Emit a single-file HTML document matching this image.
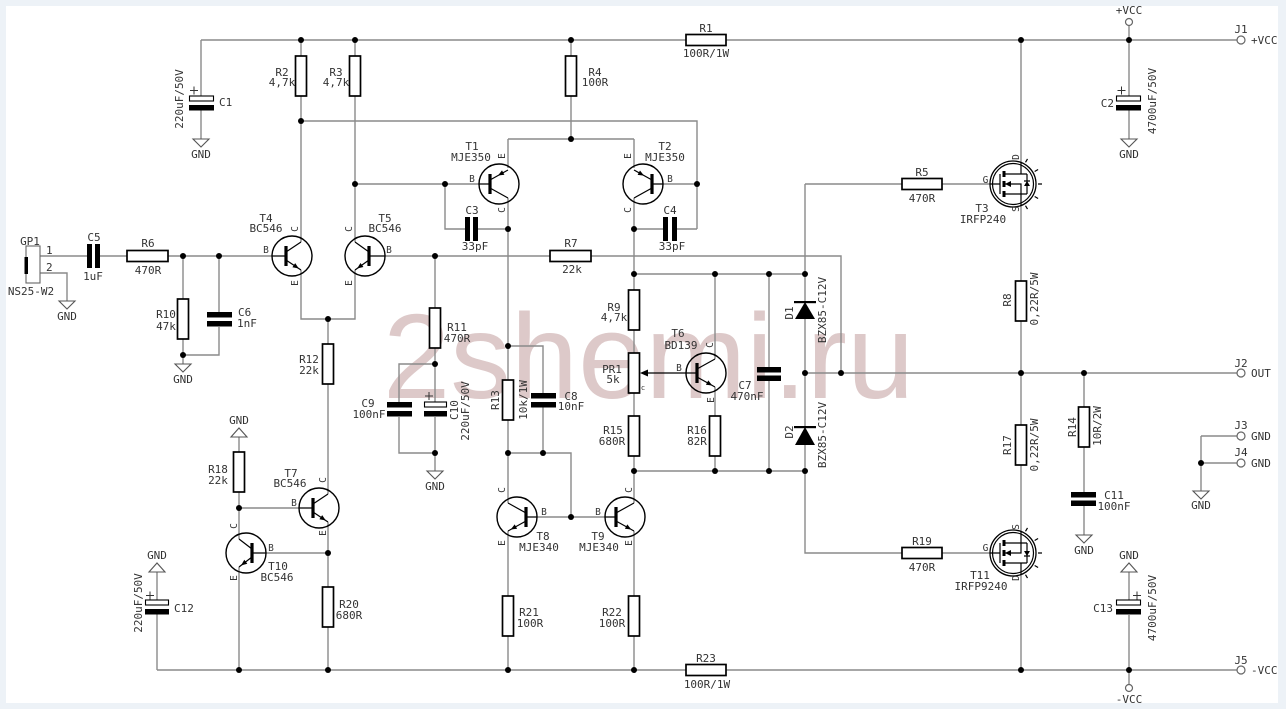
<!DOCTYPE html>
<html><head><meta charset="utf-8"><style>
html,body{margin:0;padding:0;background:#edf2f7;}
svg{display:block;}
.t{font-family:"DejaVu Sans Mono","Liberation Mono",monospace;font-size:11px;fill:#333;}
.p{font-family:"DejaVu Sans Mono","Liberation Mono",monospace;font-size:9.5px;fill:#333;}
.m{text-anchor:middle;}
.e{text-anchor:end;}
</style></head><body>
<svg width="1286" height="709" viewBox="0 0 1286 709" xmlns="http://www.w3.org/2000/svg">
<defs>
<g id="fet">
<circle r="23" fill="#fff" stroke="#000" stroke-width="1.3"/>
<circle r="20.5" fill="none" stroke="#000" stroke-width="1.2"/>
<path d="M-23,0H-13M-13,-10V10M-9,-10H14M-9,10H14M-9,0H8V10M8,-21.6V-10M8,10V21.6M14,-10V10M11,-3H17M12.5,-21.65L14.5,-25.1M21.65,-12.5L25.1,-14.5M25,0L29,0M21.65,12.5L25.1,14.5M12.5,21.65L14.5,25.1" stroke="#000" stroke-width="1.2" fill="none"/>
<path d="M-9,-13V-7M-9,-3V3M-9,7V13" stroke="#000" stroke-width="3"/>
<polygon points="-8,0 -2,-3 -2,3" fill="#000"/>
<polygon points="14,-3 11,2 17,2" fill="#000"/>
</g>
</defs>
<rect x="6" y="6" width="1272" height="697" fill="#fff"/>
<text x="383" y="398" font-family="Liberation Sans, Arial, sans-serif" font-size="121" fill="#ddc9c9">2shemi.ru</text>

<!-- wires -->
<path fill="none" stroke="#8a8a8a" stroke-width="1.4" d="
M201,40H1237 M201,40V96 M201,110V139
M301,40V56 M301,96V242 M355,40V56 M355,96V242
M301,121H697V229 M634,229H663 M677,229H697 M663,184H697
M355,184H479 M445,184V229H465 M478,229H508
M571,40V56 M571,96V139 M508,139H634 M508,139V168 M634,139V168
M508,198V380 M508,420V503 M508,531V596 M508,636V670
M634,198V290 M634,330V353 M634,393V416 M634,456V503 M634,531V596 M634,636V670
M40,256H87 M100,256H127 M168,256H272
M40,273H67V301
M183,256V299 M183,339V364 M219,256V312 M219,327V355H183
M301,270V319H355V270 M328,319V344 M328,384V494
M385,256H550 M591,256H841V373
M435,256V308 M435,348V402 M435,364H399V402 M399,417V453H435 M435,417V471
M508,346H543V393 M543,407V453 M508,453H571V517 M537,517H605
M634,274H805 M715,274V359 M769,274V367 M769,381V471 M634,471H805
M805,184V302 M805,319V427 M805,445V553H902 M942,553H990
M805,184H902 M942,184H990
M715,387V416 M715,456V471
M805,373H1237
M1021,40V163 M1021,205V281 M1021,321V425 M1021,465V532 M1021,574V670
M1084,373V407 M1084,447V492 M1084,506V535
M1129,26V96 M1129,110V139
M1129,572V600 M1129,615V684
M157,670H1237 M157,572V600 M157,614V670
M1201,436H1237 M1201,436V491 M1201,463H1237
M239,437V452 M239,492V539 M239,508H299
M328,522V587 M328,627V670 M328,553H266
M239,567V670
"/>
<path d="M686,373H646" stroke="#000" stroke-width="1.3"/>
<polygon points="640,373 648,369.5 648,376.5" fill="#000"/>

<!-- resistors -->
<g fill="#fff" stroke="#000" stroke-width="1.7">
<rect x="295.5" y="56" width="11" height="40"/>
<rect x="349.5" y="56" width="11" height="40"/>
<rect x="565.5" y="56" width="11" height="40"/>
<rect x="686" y="34.5" width="40" height="11"/>
<rect x="127" y="250.5" width="41" height="11"/>
<rect x="177.5" y="299" width="11" height="40"/>
<rect x="322.5" y="344" width="11" height="40"/>
<rect x="429.5" y="308" width="11" height="40"/>
<rect x="550" y="250.5" width="41" height="11"/>
<rect x="502.5" y="380" width="11" height="40"/>
<rect x="628.5" y="290" width="11" height="40"/>
<rect x="628.5" y="353" width="11" height="40"/>
<rect x="628.5" y="416" width="11" height="40"/>
<rect x="709.5" y="416" width="11" height="40"/>
<rect x="902" y="178.5" width="40" height="11"/>
<rect x="902" y="547.5" width="40" height="11"/>
<rect x="1015.5" y="281" width="11" height="40"/>
<rect x="1015.5" y="425" width="11" height="40"/>
<rect x="1078.5" y="407" width="11" height="40"/>
<rect x="233.5" y="452" width="11" height="40"/>
<rect x="322.5" y="587" width="11" height="40"/>
<rect x="502.5" y="596" width="11" height="40"/>
<rect x="628.5" y="596" width="11" height="40"/>
<rect x="686" y="664.5" width="40" height="11"/>
</g>

<!-- capacitors -->
<g fill="#000">
<rect x="87" y="244" width="5" height="24"/><rect x="95" y="244" width="5" height="24"/>
<rect x="465" y="217" width="5" height="24"/><rect x="473" y="217" width="5" height="24"/>
<rect x="663" y="217" width="5" height="24"/><rect x="672" y="217" width="5" height="24"/>
<rect x="207" y="312" width="25" height="5.5"/><rect x="207" y="321" width="25" height="5.5"/>
<rect x="387" y="402" width="25" height="5.5"/><rect x="387" y="411" width="25" height="5.5"/>
<rect x="531" y="393" width="25" height="5.5"/><rect x="531" y="402" width="25" height="5.5"/>
<rect x="757" y="367" width="24" height="5.5"/><rect x="757" y="375.5" width="24" height="5.5"/>
<rect x="1071" y="492" width="25" height="5.5"/><rect x="1071" y="500.5" width="25" height="5.5"/>
<rect x="189" y="105" width="25" height="5.5"/>
<rect x="1116" y="105" width="25" height="5.5"/>
<rect x="424" y="411" width="23" height="5.5"/>
<rect x="145" y="609" width="24" height="5.5"/>
<rect x="1116" y="609" width="25" height="5.5"/>
</g>
<g fill="#fff" stroke="#000" stroke-width="1.1">
<rect x="189.5" y="96" width="24" height="5"/>
<rect x="1116.5" y="96" width="24" height="5"/>
<rect x="424.5" y="402" width="22" height="5"/>
<rect x="145.5" y="600" width="23" height="5"/>
<rect x="1116.5" y="600" width="24" height="5"/>
</g>
<path stroke="#333" stroke-width="1" d="M190,90.5H198M194,86.5V94.5 M1117.5,90.5H1125.5M1121.5,86.5V94.5 M425,396H433M429,392V400 M146,595.5H154M150,591.5V599.5 M1133,595.5H1141M1137,591.5V599.5"/>

<!-- diodes -->
<g fill="#000">
<polygon points="805,302 795,319 815,319"/><rect x="794" y="301" width="22" height="2.2"/>
<polygon points="805,427 795,445 815,445"/><rect x="794" y="426" width="22" height="2.2"/>
</g>

<!-- GP1 -->
<rect x="26" y="246" width="14" height="37" fill="#fff" stroke="#666" stroke-width="1.1"/>
<rect x="24.5" y="257" width="3.5" height="17" fill="#000"/>

<!-- transistors -->
<g fill="none" stroke="#000" stroke-width="1.4">
<circle cx="499" cy="184" r="20"/><circle cx="643" cy="184" r="20"/>
<circle cx="292" cy="256" r="20"/><circle cx="365" cy="256" r="20"/>
<circle cx="319" cy="508" r="20"/><circle cx="246" cy="553" r="20"/>
<circle cx="517" cy="517" r="20"/><circle cx="625" cy="517" r="20"/>
<circle cx="706" cy="373" r="20"/>
<path stroke-width="1.2" d="
M479,184H490 M490,188L508,198 M490,180L508,170
M652,184H663 M652,188L634,198 M652,180L634,170
M272,256H286 M286,252L301,242 M286,260L301,270
M369,256H385 M369,252L355,242 M369,260L355,270
M299,508H313 M313,504L328,494 M313,512L328,522
M252,553H266 M252,549L239,539 M252,557L239,567
M526,517H537 M526,513L508,503 M526,521L508,531
M605,517H616 M616,513L634,503 M616,521L634,531
M686,373H697 M697,369L715,359 M697,377L715,387"/>
<path stroke-width="3.2" d="M490,174V194 M652,174V194 M286,246V266 M369,246V266 M313,498V518 M252,543V563 M526,507V527 M616,507V527 M697,363V383"/>
</g>
<g fill="#000">
<polygon points="498,175.5 504.4,174.8 502,170.4"/>
<polygon points="644,175.6 637.6,174.9 640,170.5"/>
<polygon points="298.8,268.5 292.4,267.3 295.2,263.1"/>
<polygon points="357.1,268.5 363.4,267 360.5,263"/>
<polygon points="325.8,520.5 319.4,519.3 322.2,515.1"/>
<polygon points="241,565.5 247.3,563.8 244.3,559.8"/>
<polygon points="510.7,529.5 517.1,528.8 514.7,524.4"/>
<polygon points="631.3,529.5 624.9,528.8 627.3,524.4"/>
<polygon points="712.3,385.5 705.9,384.8 708.3,380.4"/>
</g>
<use href="#fet" transform="translate(1013,184)"/>
<use href="#fet" transform="translate(1013,553) scale(1,-1)"/>

<!-- GND symbols -->
<g fill="#fff" stroke="#555" stroke-width="1.1">
<polygon points="193,139 209,139 201,147"/>
<polygon points="59,301 75,301 67,309"/>
<polygon points="175,364 191,364 183,372"/>
<polygon points="427,471 443,471 435,479"/>
<polygon points="1121,139 1137,139 1129,147"/>
<polygon points="1076,535 1092,535 1084,543"/>
<polygon points="1193,491 1209,491 1201,499"/>
<polygon points="231,437 247,437 239,428"/>
<polygon points="149,572 165,572 157,563"/>
<polygon points="1121,572 1137,572 1129,563"/>
</g>
<g class="t m">
<text x="201" y="158">GND</text>
<text x="67" y="320">GND</text>
<text x="183" y="383">GND</text>
<text x="435" y="490">GND</text>
<text x="1129" y="158">GND</text>
<text x="1084" y="554">GND</text>
<text x="1201" y="509">GND</text>
<text x="239" y="424">GND</text>
<text x="157" y="559">GND</text>
<text x="1129" y="559">GND</text>
</g>

<!-- terminals -->
<g fill="#fff" stroke="#666" stroke-width="1.2">
<circle cx="1241" cy="40" r="4"/><circle cx="1241" cy="373" r="4"/>
<circle cx="1241" cy="436" r="4"/><circle cx="1241" cy="463" r="4"/>
<circle cx="1241" cy="670" r="4"/><circle cx="1129" cy="22" r="3.5"/>
<circle cx="1129" cy="688" r="3.5"/>
</g>

<!-- junction dots -->
<g fill="#000">
<circle cx="301" cy="40" r="3"/><circle cx="355" cy="40" r="3"/><circle cx="571" cy="40" r="3"/>
<circle cx="1021" cy="40" r="3"/><circle cx="1129" cy="40" r="3"/><circle cx="301" cy="121" r="3"/>
<circle cx="355" cy="184" r="3"/><circle cx="445" cy="184" r="3"/><circle cx="697" cy="184" r="3"/>
<circle cx="571" cy="139" r="3"/><circle cx="508" cy="229" r="3"/><circle cx="634" cy="229" r="3"/>
<circle cx="183" cy="256" r="3"/><circle cx="219" cy="256" r="3"/><circle cx="435" cy="256" r="3"/>
<circle cx="183" cy="355" r="3"/><circle cx="328" cy="319" r="3"/><circle cx="435" cy="364" r="3"/>
<circle cx="435" cy="453" r="3"/><circle cx="508" cy="346" r="3"/><circle cx="508" cy="453" r="3"/>
<circle cx="543" cy="453" r="3"/><circle cx="571" cy="517" r="3"/><circle cx="634" cy="274" r="3"/>
<circle cx="715" cy="274" r="3"/><circle cx="769" cy="274" r="3"/><circle cx="805" cy="274" r="3"/>
<circle cx="634" cy="471" r="3"/><circle cx="715" cy="471" r="3"/><circle cx="769" cy="471" r="3"/>
<circle cx="805" cy="471" r="3"/><circle cx="805" cy="373" r="3"/><circle cx="841" cy="373" r="3"/>
<circle cx="1021" cy="373" r="3"/><circle cx="1084" cy="373" r="3"/><circle cx="1201" cy="463" r="3"/>
<circle cx="239" cy="508" r="3"/><circle cx="328" cy="553" r="3"/><circle cx="239" cy="670" r="3"/>
<circle cx="328" cy="670" r="3"/><circle cx="508" cy="670" r="3"/><circle cx="634" cy="670" r="3"/>
<circle cx="1021" cy="670" r="3"/><circle cx="1129" cy="670" r="3"/>
</g>

<!-- labels -->
<g class="t m">
<text x="1129" y="14">+VCC</text>
<text x="1129" y="703">-VCC</text>
<text x="1241" y="33">J1</text><text x="1241" y="367">J2</text><text x="1241" y="429">J3</text>
<text x="1241" y="456">J4</text><text x="1241" y="664">J5</text>
<text x="282" y="76">R2</text><text x="282" y="86">4,7k</text>
<text x="336" y="76">R3</text><text x="336" y="86">4,7k</text>
<text x="595" y="76">R4</text><text x="595" y="86">100R</text>
<text x="706" y="32">R1</text><text x="706" y="57">100R/1W</text>
<text x="472" y="150">T1</text><text x="471" y="161">MJE350</text>
<text x="665" y="150">T2</text><text x="665" y="161">MJE350</text>
<text x="472" y="214">C3</text><text x="475" y="250">33pF</text>
<text x="670" y="214">C4</text><text x="672" y="250">33pF</text>
<text x="266" y="222">T4</text><text x="266" y="232">BC546</text>
<text x="385" y="222">T5</text><text x="385" y="232">BC546</text>
<text x="30" y="245">GP1</text><text x="31" y="295">NS25-W2</text>
<text x="94" y="241">C5</text><text x="93" y="280">1uF</text>
<text x="148" y="247">R6</text><text x="148" y="274">470R</text>
<text x="166" y="318">R10</text><text x="166" y="330">47k</text>
<text x="309" y="363">R12</text><text x="309" y="374">22k</text>
<text x="457" y="331">R11</text><text x="457" y="342">470R</text>
<text x="368" y="407">C9</text><text x="369" y="418">100nF</text>
<text x="571" y="400">C8</text><text x="571" y="410">10nF</text>
<text x="571" y="247">R7</text><text x="572" y="273">22k</text>
<text x="614" y="311">R9</text><text x="614" y="321">4,7k</text>
<text x="612" y="373">PR1</text><text x="613" y="383">5k</text>
<text x="678" y="337">T6</text><text x="681" y="349">BD139</text>
<text x="745" y="389">C7</text><text x="747" y="400">470nF</text>
<text x="613" y="434">R15</text><text x="612" y="445">680R</text>
<text x="697" y="434">R16</text><text x="697" y="445">82R</text>
<text x="543" y="540">T8</text><text x="539" y="551">MJE340</text>
<text x="598" y="540">T9</text><text x="599" y="551">MJE340</text>
<text x="529" y="616">R21</text><text x="530" y="627">100R</text>
<text x="612" y="616">R22</text><text x="612" y="627">100R</text>
<text x="706" y="662">R23</text><text x="707" y="688">100R/1W</text>
<text x="218" y="473">R18</text><text x="218" y="484">22k</text>
<text x="291" y="477">T7</text><text x="290" y="487">BC546</text>
<text x="278" y="570">T10</text><text x="277" y="581">BC546</text>
<text x="349" y="608">R20</text><text x="349" y="619">680R</text>
<text x="922" y="176">R5</text><text x="922" y="202">470R</text>
<text x="982" y="212">T3</text><text x="983" y="223">IRFP240</text>
<text x="922" y="545">R19</text><text x="922" y="571">470R</text>
<text x="980" y="579">T11</text><text x="981" y="590">IRFP9240</text>
<text x="1114" y="499">C11</text><text x="1114" y="510">100nF</text>
</g>
<g class="t">
<text x="46" y="254">1</text><text x="46" y="271">2</text>
<text x="238" y="316">C6</text><text x="237" y="327">1nF</text>
<text x="219" y="106">C1</text>
<text x="174" y="612">C12</text>
<text x="1251" y="44">+VCC</text><text x="1251" y="377">OUT</text><text x="1251" y="440">GND</text>
<text x="1251" y="467">GND</text><text x="1251" y="674">-VCC</text>
</g>
<g class="t e">
<text x="1114" y="107">C2</text>
<text x="1113" y="612">C13</text>
</g>
<g class="p m">
<text x="472" y="182">B</text><text x="670" y="182">B</text>
<text x="266" y="253">B</text><text x="389" y="253">B</text>
<text x="294" y="506">B</text><text x="271" y="551">B</text>
<text x="544" y="515">B</text><text x="598" y="515">B</text>
<text x="679" y="371">B</text>
<text x="985.5" y="183">G</text><text x="985.5" y="551">G</text>
<text x="643" y="390" font-size="7">c</text>
</g>
<g class="p m">
<text transform="translate(505,156) rotate(-90)">E</text><text transform="translate(505,210) rotate(-90)">C</text>
<text transform="translate(631,156) rotate(-90)">E</text><text transform="translate(631,210) rotate(-90)">C</text>
<text transform="translate(298,229) rotate(-90)">C</text><text transform="translate(298,283) rotate(-90)">E</text>
<text transform="translate(352,229) rotate(-90)">C</text><text transform="translate(352,283) rotate(-90)">E</text>
<text transform="translate(326,480) rotate(-90)">C</text><text transform="translate(326,533) rotate(-90)">E</text>
<text transform="translate(237,526) rotate(-90)">C</text><text transform="translate(237,578) rotate(-90)">E</text>
<text transform="translate(505,490) rotate(-90)">C</text><text transform="translate(505,543) rotate(-90)">E</text>
<text transform="translate(632,490) rotate(-90)">C</text><text transform="translate(632,543) rotate(-90)">E</text>
<text transform="translate(713,345) rotate(-90)">C</text><text transform="translate(714,400) rotate(-90)">E</text>
<text transform="translate(1019,157) rotate(-90)">D</text><text transform="translate(1019,209) rotate(-90)">S</text>
<text transform="translate(1019,527) rotate(-90)">S</text><text transform="translate(1019,578) rotate(-90)">D</text>
</g>
<g class="t m">
<text transform="translate(183,99) rotate(-90)">220uF/50V</text>
<text transform="translate(458,410) rotate(-90)">C10</text>
<text transform="translate(469,411) rotate(-90)">220uF/50V</text>
<text transform="translate(499,400) rotate(-90)">R13</text>
<text transform="translate(527,400) rotate(-90)">10k/1W</text>
<text transform="translate(793,313) rotate(-90)">D1</text>
<text transform="translate(826,310) rotate(-90)">BZX85-C12V</text>
<text transform="translate(793,432) rotate(-90)">D2</text>
<text transform="translate(826,435) rotate(-90)">BZX85-C12V</text>
<text transform="translate(1156,101) rotate(-90)">4700uF/50V</text>
<text transform="translate(1011,300) rotate(-90)">R8</text>
<text transform="translate(1038,299) rotate(-90)">0,22R/5W</text>
<text transform="translate(1011,445) rotate(-90)">R17</text>
<text transform="translate(1038,445) rotate(-90)">0,22R/5W</text>
<text transform="translate(1076,427) rotate(-90)">R14</text>
<text transform="translate(1101,426) rotate(-90)">10R/2W</text>
<text transform="translate(142,603) rotate(-90)">220uF/50V</text>
<text transform="translate(1156,608) rotate(-90)">4700uF/50V</text>
</g>
</svg>
</body></html>
